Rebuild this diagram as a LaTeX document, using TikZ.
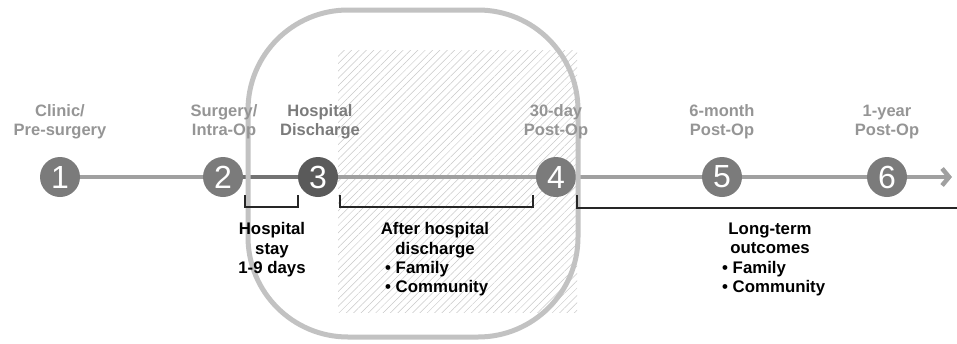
\documentclass[tikz,border=0pt]{standalone}
\usepackage{fontspec}
\setmainfont{Liberation Sans}
\usetikzlibrary{arrows.meta,patterns.meta}
\definecolor{stepgray}{HTML}{7B7B7B}
\definecolor{stepdark}{HTML}{5A5A5A}
\definecolor{linegray}{HTML}{A0A0A0}
\definecolor{labelgray}{HTML}{959595}
\definecolor{framegray}{HTML}{C2C2C2}
\definecolor{hatchgray}{HTML}{C8C8C8}

\begin{document}
\begin{tikzpicture}[x=1pt,y=-1pt,
    stage/.style={circle,fill=stepgray,text=white,minimum size=40pt,inner sep=0pt,
                  font=\fontsize{32}{32}\selectfont},
    when/.style={align=center,text=labelgray,inner sep=0pt,
                 font=\fontsize{16.5}{19}\selectfont\bfseries},
    what/.style={align=center,inner sep=0pt,anchor=north,
                 font=\fontsize{16.8}{19.5}\selectfont\bfseries},
    bullets/.style={align=left,inner sep=0pt,anchor=north west,
                    font=\fontsize{16.8}{19.5}\selectfont\bfseries},
    spine/.style={linegray,line width=4.5pt},
    bracket/.style={black!85,line width=1.3pt}]
    \useasboundingbox (0,0) rectangle (957,343);
    % hatched window after discharge
    \fill[pattern={Lines[angle=45,distance=5.2pt,line width=0.5pt]},pattern color=hatchgray]
        (338,50) rectangle (577,312);
    % time line
    \node (step1) at (60,177)  [stage] {1};
    \node (step2) at (223,177) [stage] {2};
    \node (step3) at (318,177) [stage,fill=stepdark] {3};
    \node (step4) at (556,177) [stage] {4};
    \node (step5) at (722,177) [stage] {5};
    \node (step6) at (887,177) [stage] {6};
    \coordinate (lineEnd) at (952,177);
    \draw[spine]                 (step1) to (step2);
    \draw[spine,stepdark!85]     (step2) to (step3);
    \draw[spine]                 (step3) to (step4);
    \draw[spine]                 (step4) to (step5);
    \draw[spine]                 (step5) to (step6);
    \draw[spine,-{Straight Barb[length=7pt,width=17pt]}] (step6) to (lineEnd);
    % 30-day frame
    \draw[framegray,line width=5pt,rounded corners=100pt] (248,10) rectangle (578,337);
    % time points
    \node (clinic)    at (60,122)  [when] {Clinic/\\Pre-surgery};
    \node (surgery)   at (224,122) [when] {Surgery/\\Intra-Op};
    \node (discharge) at (320,122) [when,text=stepgray] {Hospital\\Discharge};
    \node (day30)     at (556,122) [when] {30-day\\Post-Op};
    \node (month6)    at (722,122) [when] {6-month\\Post-Op};
    \node (year1)     at (887,122) [when] {1-year\\Post-Op};
    % brackets
    \coordinate (stayL)  at (245,195);
    \coordinate (stayR)  at (298,195);
    \coordinate (afterL) at (340,195);
    \coordinate (afterR) at (533,195);
    \coordinate (longL)  at (577,195);
    \coordinate (longR)  at (957,208);
    \draw[bracket] (stayL) -- ++(0,12) -| (stayR);
    \draw[bracket] (afterL) -- ++(0,12) -| (afterR);
    \draw[bracket] (longL) |- (longR);
    % periods
    \node (stay)      at (272,222.5) [what] {Hospital\\stay\\1-9 days};
    \node (after)     at (435,222.5) [what] {After hospital\\discharge};
    \node (afterList) at (385,261) [bullets] {\textbullet\ Family\\\textbullet\ Community};
    \node (longterm)  at (770,222.5) [what] {Long-term\\outcomes};
    \node (longList)  at (722,261) [bullets] {\textbullet\ Family\\\textbullet\ Community};
\end{tikzpicture}
\end{document}
